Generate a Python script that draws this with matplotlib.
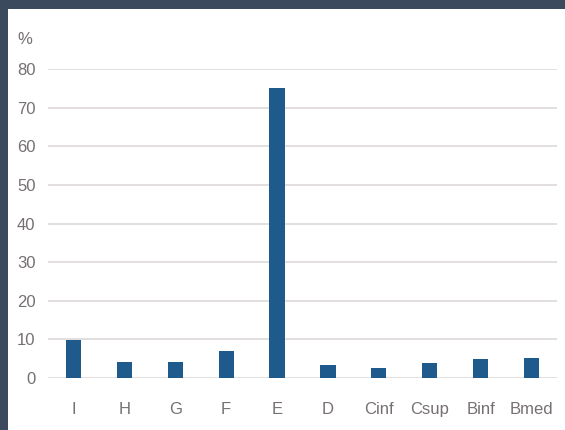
"""Bar chart: share (%) per category, on a white card with a dark frame."""
import matplotlib
matplotlib.use("Agg")
import matplotlib.pyplot as plt
from matplotlib.patches import Rectangle

categories = ["I", "H", "G", "F", "E", "D", "Cinf", "Csup", "Binf", "Bmed"]
values = [9.9, 4.2, 4.2, 7.0, 75.0, 3.4, 2.7, 3.8, 4.9, 5.1]
y_ticks = [0, 10, 20, 30, 40, 50, 60, 70, 80]

BAR_COLOR = "#1f5a8d"
FRAME_COLOR = "#3c4a5d"
TEXT_COLOR = "#767070"
GRID_COLOR = "#e3dfdf"

plt.rcParams["font.family"] = ["Liberation Sans Narrow", "Liberation Sans", "DejaVu Sans"]

fig = plt.figure(figsize=(5.65, 4.30), dpi=100)
fig.patch.set_facecolor(FRAME_COLOR)

# white card inside the dark frame
fig.patches.append(Rectangle((8 / 565, 0), 1, (430 - 9) / 430,
                             transform=fig.transFigure, facecolor="white",
                             edgecolor="none", zorder=-10))

ax = fig.add_axes([48 / 565, (430 - 378) / 430, 509 / 565, 309 / 430])
ax.set_facecolor("none")

ax.bar(range(len(categories)), values, width=0.3, color=BAR_COLOR, zorder=3)

ax.set_xlim(-0.5, len(categories) - 0.5)
ax.set_ylim(0, 80)
ax.set_yticks(y_ticks)
ax.set_xticks(range(len(categories)))
ax.set_xticklabels(categories)

ax.grid(True, axis="y", color=GRID_COLOR, linewidth=1.4, zorder=0)
ax.set_axisbelow(True)
for spine in ax.spines.values():
    spine.set_visible(False)

ax.tick_params(axis="both", length=0, labelsize=12, colors=TEXT_COLOR)
ax.tick_params(axis="y", pad=9)
ax.tick_params(axis="x", pad=17)

fig.text(17 / 565, 1 - 39 / 430, "%", fontsize=12, color=TEXT_COLOR,
         ha="left", va="center")

fig.savefig("out.png", dpi=100, facecolor=fig.get_facecolor())
plt.close(fig)
